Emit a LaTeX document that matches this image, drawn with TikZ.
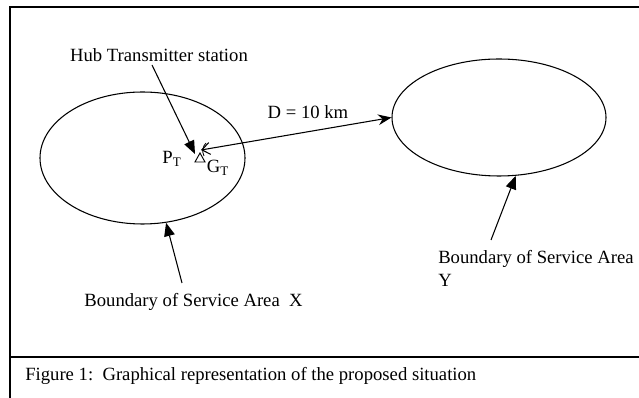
\documentclass[tikz,border=0pt]{standalone}
\usepackage{fontspec}
\setmainfont{Liberation Serif}
\usetikzlibrary{arrows.meta,shapes.geometric}
\begin{document}
\begin{tikzpicture}[x=0.75pt,y=-0.75pt,
  area/.style={draw,ellipse,inner sep=0pt,line width=0.8pt},
  pointer/.style={-{Triangle[length=10pt,width=8pt]},line width=0.8pt},
  txt/.style={font=\fontsize{14}{17}\selectfont,inner sep=0pt}]
  \useasboundingbox (0,0) rectangle (639,398);
  % frame and caption
  \draw[line width=1.2pt] (639,7)--(10,7)--(10,398);
  \draw[line width=1.2pt] (10,357)--(639,357);
  \node[txt,anchor=west] (caption) at (25,376) {Figure 1:~~Graphical representation of the proposed situation};
  % service areas
  \node[area,minimum width=153.75pt,minimum height=99pt] (areaX) at (142.5,158) {};
  \node[area,minimum width=160.5pt,minimum height=87.75pt] (areaY) at (499,117.5) {};
  % transmitter
  \coordinate (ant) at (200,157);
  \coordinate (hubfoot) at (152,65);
  \coordinate (hubtip) at (195,154);
  \coordinate (dtip) at (201,150);
  \draw[line width=0.7pt] ([shift={(-5,5)}]ant)--([shift={(5,5)}]ant)--([shift={(0,-4)}]ant)--cycle;
  \draw[line width=0.6pt] (206,143) to[bend right=35] (204,156);
  \node[txt] (hub) at (159,55) {Hub Transmitter station};
  \node[txt] (pt) at (172,159) {P\textsubscript{T}};
  \node[txt] (gt) at (218,168) {G\textsubscript{T}};
  \draw[pointer] (hubfoot)--(hubtip);
  % distance
  \node[txt] (dist) at (308,112) {D = 10 km};
  \draw[{Straight Barb[length=6pt,width=9pt]}-{Stealth[length=10pt,width=8pt]},line width=0.8pt] (dtip)--(areaY.west);
  % boundary labels
  \node[txt] (labX) at (193.5,302) {Boundary of Service Area~~X};
  \node[txt,anchor=west,align=left] (labY) at (438,268.5) {Boundary of Service Area\\Y};
  \coordinate (tailX) at (182,283);
  \coordinate (tailY) at (491,240);
  \draw[pointer] (tailX)--(areaX.-70);
  \draw[pointer] (tailY)--(areaY.-74);
\end{tikzpicture}
\end{document}
